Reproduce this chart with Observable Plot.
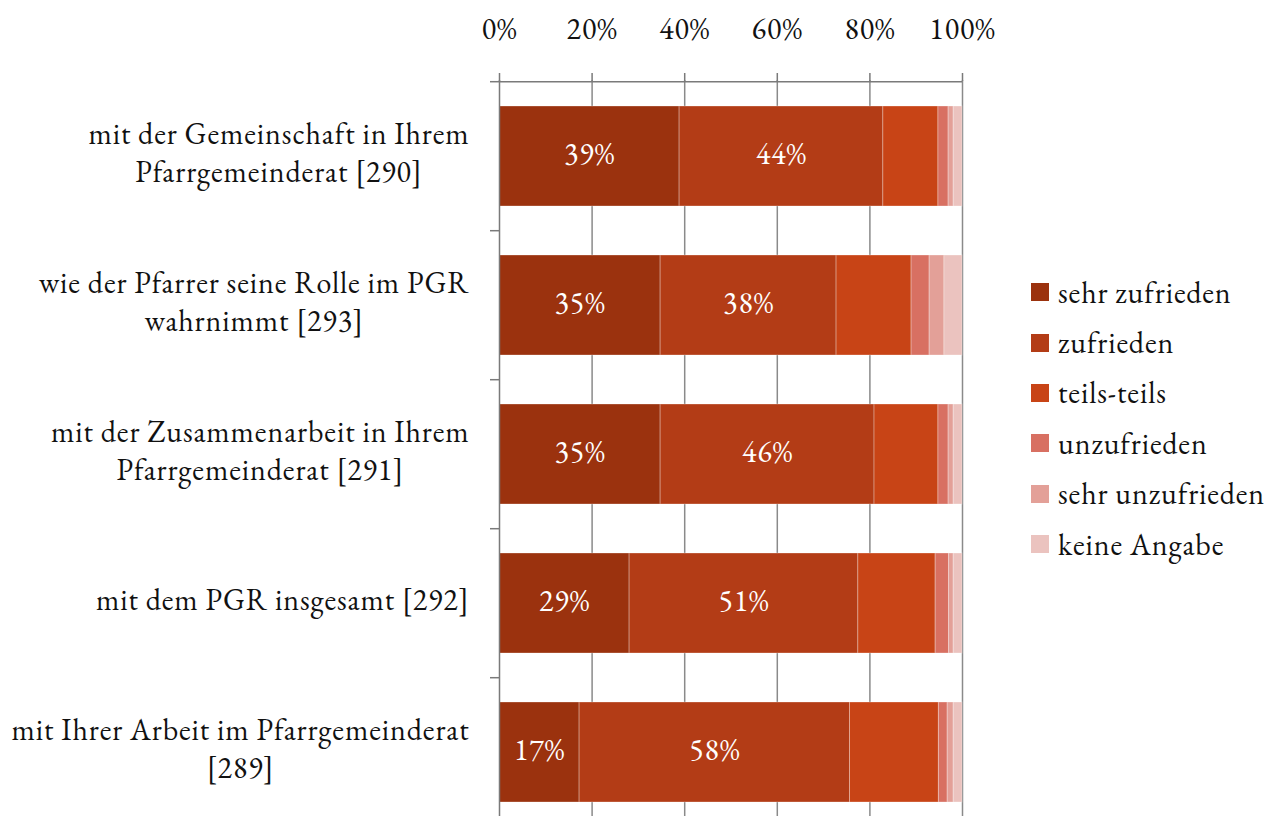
<!DOCTYPE html>
<html>
<head>
<meta charset="utf-8">
<script src="https://cdn.jsdelivr.net/npm/d3@7"></script>
<script src="https://cdn.jsdelivr.net/npm/@observablehq/plot@0.6"></script>
</head>
<body style="margin:0;padding:0;background:#fff;overflow:hidden">
<div id="wrap" style="position:relative;width:1274px;height:816px"><div id="chart" style="position:absolute;left:0;top:0"></div><div id="legend" style="position:absolute;left:1031px;top:267px"></div></div>
<script>
const categories = [
  "mit der Gemeinschaft in Ihrem\nPfarrgemeinderat [290]",
  "wie der Pfarrer seine Rolle im PGR\nwahrnimmt [293]",
  "mit der Zusammenarbeit in Ihrem\nPfarrgemeinderat [291]",
  "mit dem PGR insgesamt [292]",
  "mit Ihrer Arbeit im Pfarrgemeinderat\n[289]"
];
const responses = ["sehr zufrieden", "zufrieden", "teils-teils", "unzufrieden", "sehr unzufrieden", "keine Angabe"];
const colors = ["#9b320e", "#b33c16", "#c84416", "#d87062", "#e3a098", "#ebc3bf"];

const sehrZufrieden   = [38.9, 34.8, 34.8, 28.1, 17.3];
const zufrieden       = [44.0, 38.0, 46.2, 49.4, 58.4];
const teilsTeils      = [11.9, 16.2, 13.8, 16.7, 19.2];
const unzufrieden     = [2.2, 3.9, 2.2, 2.9, 1.9];
const sehrUnzufrieden = [1.1, 3.2, 1.1, 1.0, 1.3];
const keineAngabe     = [1.9, 3.9, 1.9, 1.9, 1.9];

const labelsSehrZufrieden = ["39%", "35%", "35%", "29%", "17%"];
const labelsZufrieden     = ["44%", "38%", "46%", "51%", "58%"];

const xTicks = [0, 20, 40, 60, 80, 100];

const series = [sehrZufrieden, zufrieden, teilsTeils, unzufrieden, sehrUnzufrieden, keineAngabe];
const seriesLabels = [labelsSehrZufrieden, labelsZufrieden, null, null, null, null];
const data = [];
categories.forEach((cat, i) => {
  responses.forEach((resp, j) => {
    data.push({cat, resp, value: series[j][i], label: seriesLabels[j] ? seriesLabels[j][i] : null});
  });
});

const FONT = `"EB Garamond", "Liberation Serif", monospace`;
const FS = 30;
const LS = "0.9px";
const wrap = document.getElementById("wrap");
wrap.style.fontFamily = FONT;
wrap.style.letterSpacing = LS;

const width = 1000, height = 830;
const marginLeft = 499, marginRight = 38, marginTop = 80, marginBottom = 2;
const step = (height - marginTop - marginBottom) / categories.length;

const ctx = document.createElement("canvas").getContext("2d");
ctx.font = `${FS}px ${FONT}`;
try { ctx.letterSpacing = LS; } catch (e) {}
const labelRight = 469;
const yLabelMarks = categories.map(cat => {
  const w = d3.max(cat.split("\n"), l => ctx.measureText(l).width);
  return Plot.text([cat], {
    y: d => d, text: d => d, frameAnchor: "left",
    textAnchor: "middle", lineAnchor: "middle", lineHeight: 1.27,
    dx: labelRight - w / 2 - marginLeft, dy: -6, fontSize: FS, fill: "#111", fontFamily: FONT
  });
});

const chart = Plot.plot({
  width, height, marginLeft, marginRight, marginTop, marginBottom,
  style: {fontFamily: FONT, fontSize: FS + "px", background: "#fff", letterSpacing: LS},
  x: {domain: [0, 100], ticks: xTicks, tickFormat: d => d + "%", label: null},
  y: {domain: categories, paddingInner: 0.33, paddingOuter: 0.165, label: null, axis: null},
  color: {domain: responses, range: colors},
  marks: [
    Plot.gridX(xTicks.slice(1), {stroke: "#8a8a8a", strokeOpacity: 1, strokeWidth: 1.5}),
    Plot.barX(data, Plot.stackX({x: "value", y: "cat", fill: "resp", order: null,
      stroke: "#fff", strokeOpacity: 0.3, strokeWidth: 1})),
    Plot.text(data.filter(d => d.label), Plot.stackX({x: "value", y: "cat", z: "resp", order: null,
      text: "label", fill: "#fff", fontSize: FS, fontFamily: FONT, dy: -2})),
    Plot.ruleX([0], {stroke: "#7a7a7a", strokeWidth: 1.5}),
    Plot.ruleY([categories[0]], {y: d => d, dy: -step / 2, stroke: "#7a7a7a", strokeWidth: 1.5}),
    Plot.axisY({ticks: categories, tickSize: 9, tickFormat: () => "", dy: -step / 2, stroke: "#7a7a7a", strokeWidth: 1.5}),
    Plot.axisX({anchor: "top", ticks: xTicks, tickFormat: d => d + "%", tickSize: 8, tickPadding: 34,
      stroke: "#7a7a7a", strokeWidth: 1.5, fontSize: FS, fill: "#111", label: null, fontFamily: FONT}),
    ...yLabelMarks
  ]
});
chart.style.fontFamily = FONT;
chart.style.letterSpacing = LS;
document.getElementById("chart").appendChild(chart);

const legend = document.getElementById("legend");
responses.forEach((r, i) => {
  const it = document.createElement("div");
  Object.assign(it.style, {display: "flex", alignItems: "center", height: "50.4px", fontSize: FS + "px", color: "#111", fontFamily: FONT, letterSpacing: LS});
  const sw = document.createElement("span");
  Object.assign(sw.style, {width: "18px", height: "18px", marginRight: "9px", flex: "none", background: colors[i]});
  const tx = document.createElement("span");
  tx.textContent = r;
  it.appendChild(sw); it.appendChild(tx);
  legend.appendChild(it);
});
</script>
</body>
</html>
